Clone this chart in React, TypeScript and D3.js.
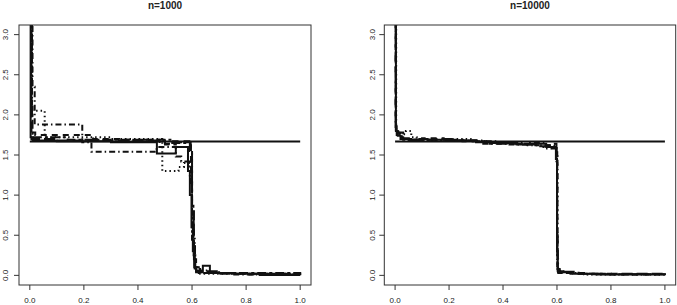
import React from "react";
import * as d3 from "d3";

type Pt = [number, number];

const xTicks = [0, 0.2, 0.4, 0.6, 0.8, 1.0];
const yTicks = [0, 0.5, 1.0, 1.5, 2.0, 2.5, 3.0];
const trueLevel = 1.667;
const titles = ["n=1000", "n=10000"];

// n = 1000 estimates (step functions: [x, value from x on])
const e1000Solid: Pt[] = [[0, 8], [0.003, 1.72], [0.01, 1.68], [0.1, 1.67], [0.3, 1.66], [0.47, 1.52], [0.54, 1.6], [0.585, 1.3], [0.592, 1.0], [0.598, 0.6], [0.603, 0.3], [0.608, 0.1], [0.615, 0.04], [0.64, 0.12], [0.666, 0.03], [0.75, 0.02], [0.85, 0.005], [1.0, 0.005]];
const e1000Dashed: Pt[] = [[0, 6], [0.008, 1.78], [0.02, 1.75], [0.234, 1.7], [0.33, 1.69], [0.48, 1.64], [0.53, 1.67], [0.59, 1.62], [0.596, 1.1], [0.6, 0.7], [0.606, 0.25], [0.612, 0.08], [0.63, 0.04], [0.7, 0.03], [0.8, 0.01], [1.0, 0.01]];
const e1000Dotted: Pt[] = [[0, 5], [0.008, 2.05], [0.055, 1.72], [0.3, 1.7], [0.49, 1.3], [0.55, 1.35], [0.57, 1.4], [0.592, 1.2], [0.6, 0.5], [0.61, 0.1], [0.62, 0.02], [1.0, 0.0]];
const e1000DotDash: Pt[] = [[0, 7], [0.01, 2.35], [0.018, 1.88], [0.194, 1.66], [0.228, 1.54], [0.469, 1.6], [0.54, 1.48], [0.56, 1.42], [0.59, 1.3], [0.6, 0.4], [0.61, 0.06], [0.66, 0.03], [0.75, 0.01], [1.0, 0.0]];
const e1000LongDash: Pt[] = [[0, 9], [0.006, 1.7], [0.1, 1.68], [0.5, 1.63], [0.54, 1.66], [0.595, 1.58], [0.6, 0.8], [0.607, 0.2], [0.615, 0.05], [0.7, 0.02], [1.0, 0.0]];
const e1000TwoDash: Pt[] = [[0, 4], [0.005, 2.1], [0.01, 1.72], [0.14, 1.69], [0.52, 1.65], [0.592, 1.55], [0.6, 0.9], [0.605, 0.4], [0.611, 0.1], [0.625, 0.03], [1.0, 0.0]];

// n = 10000 estimates
const e10000Solid: Pt[] = [[0, 12], [0.003, 1.8], [0.01, 1.74], [0.02, 1.7], [0.05, 1.68], [0.09, 1.7], [0.12, 1.69], [0.2, 1.68], [0.3, 1.66], [0.4, 1.65], [0.45, 1.63], [0.5, 1.64], [0.56, 1.6], [0.596, 1.45], [0.6, 0.3], [0.603, 0.05], [0.62, 0.04], [0.66, 0.02], [0.75, 0.01], [1.0, 0.005]];
const e10000Dashed: Pt[] = [[0, 10], [0.002, 1.85], [0.008, 1.78], [0.015, 1.72], [0.03, 1.69], [0.1, 1.71], [0.18, 1.69], [0.25, 1.67], [0.33, 1.65], [0.45, 1.64], [0.52, 1.62], [0.58, 1.64], [0.598, 1.55], [0.601, 0.1], [0.605, 0.03], [0.65, 0.02], [0.8, 0.01], [1.0, 0.003]];
const e10000Dotted: Pt[] = [[0, 9], [0.004, 1.82], [0.012, 1.76], [0.04, 1.8], [0.06, 1.72], [0.08, 1.68], [0.2, 1.7], [0.28, 1.67], [0.38, 1.66], [0.48, 1.62], [0.55, 1.58], [0.598, 1.4], [0.601, 0.2], [0.604, 0.04], [0.64, 0.03], [0.7, 0.01], [1.0, 0.0]];
const e10000DotDash: Pt[] = [[0, 11], [0.003, 1.76], [0.02, 1.78], [0.03, 1.7], [0.07, 1.69], [0.15, 1.68], [0.26, 1.68], [0.32, 1.64], [0.42, 1.63], [0.5, 1.65], [0.56, 1.62], [0.59, 1.6], [0.599, 1.5], [0.602, 0.08], [0.61, 0.05], [0.63, 0.03], [0.7, 0.015], [1.0, 0.005]];
const e10000LongDash: Pt[] = [[0, 14], [0.002, 1.9], [0.006, 1.75], [0.025, 1.71], [0.06, 1.69], [0.14, 1.7], [0.22, 1.68], [0.3, 1.67], [0.35, 1.64], [0.47, 1.63], [0.53, 1.61], [0.57, 1.58], [0.597, 1.5], [0.6, 0.5], [0.603, 0.06], [0.62, 0.045], [0.68, 0.02], [1.0, 0.008]];

const dashes: Record<string, string> = {
  solid: "",
  dashed: "6,5",
  dotted: "1.5,3",
  dotdash: "1.5,3,6,3",
  longdash: "11,4",
  twodash: "3,3,9,3",
};

const panels = [
  {
    title: titles[0],
    box: [19, 311],
    series: [
      { d: e1000Dotted, lty: "dotted" },
      { d: e1000DotDash, lty: "dotdash" },
      { d: e1000Dashed, lty: "dashed" },
      { d: e1000TwoDash, lty: "twodash" },
      { d: e1000LongDash, lty: "longdash" },
      { d: e1000Solid, lty: "solid" },
    ],
    labelX: 5.5,
  },
  {
    title: titles[1],
    box: [384.3, 675.7],
    series: [
      { d: e10000Dotted, lty: "dotted" },
      { d: e10000DotDash, lty: "dotdash" },
      { d: e10000Dashed, lty: "dashed" },
      { d: e10000Solid, lty: "solid" },
      { d: e10000LongDash, lty: "longdash" },
    ],
    labelX: 372.5,
  },
];

const TOP = 25;
const BOTTOM = 285;
const font = "'Liberation Sans', Arial, Helvetica, sans-serif";
const fmt = d3.format(".1f");

export default function App() {
  const y = d3.scaleLinear().domain([-0.12, 3.12]).range([BOTTOM, TOP]);
  return (
    <svg width={677} height={305} style={{ position: "absolute", left: 0, top: 0, background: "#fff" }}>
      {panels.map((p, pi) => {
        const x = d3.scaleLinear().domain([-0.04, 1.04]).range(p.box as [number, number]);
        const line = d3
          .line<Pt>()
          .x((d) => x(d[0]))
          .y((d) => y(d[1]))
          .curve(d3.curveStepAfter);
        const clipId = `clip${pi}`;
        const [x0, x1] = p.box;
        return (
          <g key={pi}>
            <defs>
              <clipPath id={clipId}>
                <rect x={x0} y={TOP} width={x1 - x0} height={BOTTOM - TOP} />
              </clipPath>
            </defs>
            <text x={(x0 + x1) / 2} y={8.5} textAnchor="middle" fontFamily={font} fontWeight="bold" fontSize={10} fill="#222">
              {p.title}
            </text>
            <g clipPath={`url(#${clipId})`}>
              <line x1={x(0)} x2={x(1)} y1={y(trueLevel)} y2={y(trueLevel)} stroke="#111" strokeWidth={2} />
              {p.series.map((s, si) => (
                <path
                  key={si}
                  d={line(s.d) || ""}
                  fill="none"
                  stroke="#111"
                  strokeWidth={2}
                  strokeDasharray={dashes[s.lty]}
                />
              ))}
            </g>
            <rect x={x0} y={TOP} width={x1 - x0} height={BOTTOM - TOP} fill="none" stroke="#333" strokeWidth={1} />
            {xTicks.map((t) => (
              <g key={t}>
                <line x1={x(t)} x2={x(t)} y1={BOTTOM} y2={BOTTOM + 5} stroke="#333" />
                <text x={x(t)} y={302.5} textAnchor="middle" fontFamily={font} fontSize={8} fill="#222">
                  {fmt(t)}
                </text>
              </g>
            ))}
            {yTicks.map((t) => (
              <g key={t}>
                <line x1={x0} x2={x0 - 5} y1={y(t)} y2={y(t)} stroke="#333" />
                <text
                  transform={`translate(${p.labelX},${y(t)}) rotate(-90)`}
                  textAnchor="middle"
                  fontFamily={font}
                  fontSize={8}
                  fill="#222"
                  dy="0.35em"
                >
                  {fmt(t)}
                </text>
              </g>
            ))}
          </g>
        );
      })}
    </svg>
  );
}
